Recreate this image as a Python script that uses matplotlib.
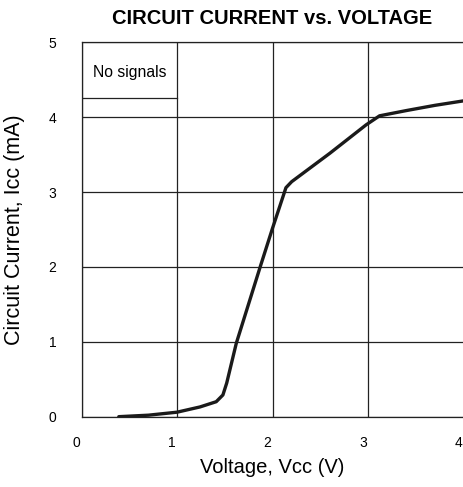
"""
Circuit current vs. supply voltage
"""
from matplotlib import pyplot as plt
from matplotlib.transforms import ScaledTranslation

# curve
voltage = [0.39, 0.7, 1.0, 1.24, 1.41, 1.48, 1.52, 1.62, 1.87, 2.0, 2.14, 2.2, 2.6, 2.98, 3.12, 3.4, 3.7, 4.0]
current = [0.0, 0.02, 0.06, 0.13, 0.2, 0.29, 0.45, 0.98, 2.0, 2.52, 3.06, 3.14, 3.52, 3.9, 4.02, 4.09, 4.16, 4.22]

x_ticks = [0, 1, 2, 3, 4]
y_ticks = [0, 1, 2, 3, 4, 5]
legend_text = 'No signals'
legend_rule = 4.26

plt.rcParams['font.family'] = ['Liberation Sans', 'DejaVu Sans']

fig = plt.figure(figsize=(4.64, 4.87), dpi=100)
ax = fig.add_axes([0.1757, 0.1444, 0.8235, 0.7684])

ax.plot(voltage, current, color='#1a1a1a', linewidth=2.4,
        solid_capstyle='round', solid_joinstyle='round')

ax.set_xlim(0, 4)
ax.set_ylim(0, 5)
ax.set_xticks(x_ticks)
ax.set_yticks(y_ticks)
ax.tick_params(length=0, labelsize=10)
ax.tick_params(axis='x', pad=14)
ax.tick_params(axis='y', pad=18)
# x tick labels sit a few pixels left of their grid lines in the reference
shift = ScaledTranslation(-5 / 100, 0, fig.dpi_scale_trans)
for lbl in ax.get_xticklabels():
    lbl.set_transform(lbl.get_transform() + shift)

ax.grid(True, color='#222222', linewidth=0.9)
ax.set_axisbelow(True)
for spine in ax.spines.values():
    spine.set_color('#222222')
    spine.set_linewidth(0.9)

# legend cell in the top-left grid square
ax.plot([0, 1], [legend_rule, legend_rule], color='#222222', linewidth=0.9)
ax.text(0.5, 4.6, legend_text, ha='center', va='center', fontsize=11.3)

ax.set_title('CIRCUIT CURRENT vs. VOLTAGE', fontsize=14.5, fontweight='bold', pad=13)
ax.set_xlabel('Voltage, Vcc (V)', fontsize=14.5, labelpad=6)
ax.set_ylabel('Circuit Current, Icc (mA)', fontsize=15.5, labelpad=17)

fig.savefig('out.png', dpi=100)
